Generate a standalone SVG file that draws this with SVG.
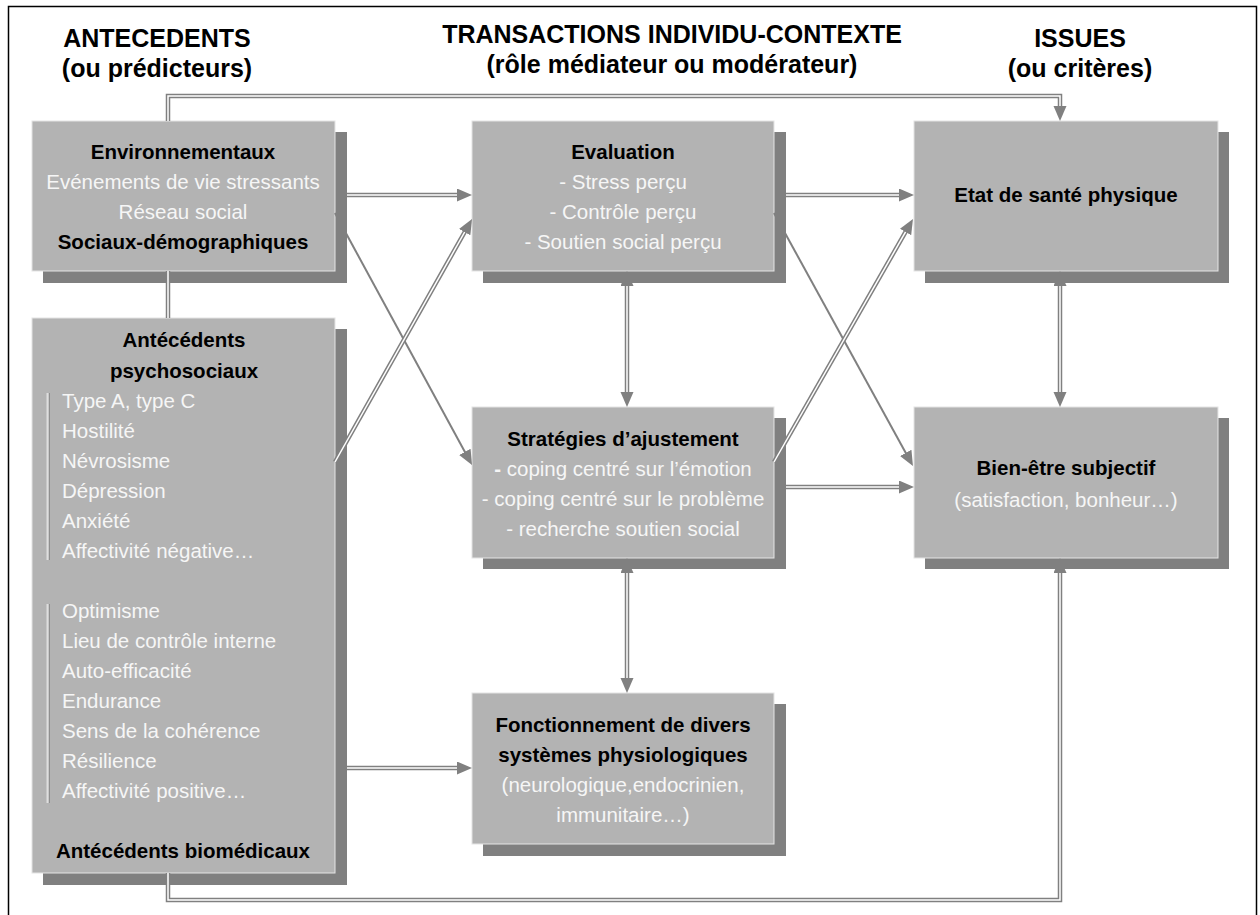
<svg xmlns="http://www.w3.org/2000/svg" width="1260" height="915" viewBox="0 0 1260 915">
<style>
text{font-family:"Liberation Sans",Arial,sans-serif}
.hd{font-size:25px;font-weight:bold;fill:#000;text-anchor:middle}
.t{font-size:20.5px;text-anchor:middle}
.b{font-weight:bold;fill:#000}
.w{fill:#f6f6f6}
.l{font-size:20.5px;fill:#f6f6f6}
.box{fill:#b3b3b3;stroke:#e4e4e4;stroke-width:1}
.sh{fill:#808080}
.dO{fill:none;stroke:#808080;stroke-width:4.5}
.dI{fill:none;stroke:#ffffff;stroke-width:1.5}
.s{fill:none;stroke:#808080;stroke-width:2}
.ae{marker-end:url(#ah)}
.ab{marker-end:url(#ah);marker-start:url(#ah)}
</style>
<defs>
<marker id="ah" markerUnits="userSpaceOnUse" markerWidth="16" markerHeight="14" refX="7" refY="6.5" orient="auto-start-reverse" viewBox="0 0 16 14">
<path d="M0,0 L15,6.5 L0,13 Z" fill="#808080"/>
</marker>
</defs>
<rect x="8.5" y="6.5" width="1248" height="930" fill="#ffffff" stroke="#000" stroke-width="1.5"/>
<g id="headers">
<text class="hd" x="157" y="47">ANTECEDENTS</text>
<text class="hd" x="157" y="77">(ou prédicteurs)</text>
<text class="hd" x="672" y="43">TRANSACTIONS INDIVIDU-CONTEXTE</text>
<text class="hd" x="672" y="73">(rôle médiateur ou modérateur)</text>
<text class="hd" x="1080" y="47">ISSUES</text>
<text class="hd" x="1080" y="77">(ou critères)</text>
</g>
<g id="env">
<rect class="sh" x="43" y="132" width="304" height="151"/>
<rect class="box" x="32" y="121" width="303" height="150"/>
<text class="t b" x="183" y="159">Environnementaux</text>
<text class="t w" x="183" y="189">Evénements de vie stressants</text>
<text class="t w" x="183" y="219">Réseau social</text>
<text class="t b" x="183" y="249">Sociaux-démographiques</text>
</g>
<g id="psycho">
<rect class="sh" x="43" y="329" width="304" height="556"/>
<rect class="box" x="32" y="318" width="303" height="555"/>
<text class="t b" x="184" y="347">Antécédents</text>
<text class="t b" x="184" y="378">psychosociaux</text>
<rect x="46.5" y="393" width="2" height="167" fill="#dedede"/>
<rect x="49" y="393" width="1" height="167" fill="#8f8f8f"/>
<text class="l" x="62" y="408">Type A, type C</text>
<text class="l" x="62" y="438">Hostilité</text>
<text class="l" x="62" y="468">Névrosisme</text>
<text class="l" x="62" y="498">Dépression</text>
<text class="l" x="62" y="528">Anxiété</text>
<text class="l" x="62" y="558">Affectivité négative…</text>
<rect x="46.5" y="604" width="2" height="199" fill="#dedede"/>
<rect x="49" y="604" width="1" height="199" fill="#8f8f8f"/>
<text class="l" x="62" y="618">Optimisme</text>
<text class="l" x="62" y="648">Lieu de contrôle interne</text>
<text class="l" x="62" y="678">Auto-efficacité</text>
<text class="l" x="62" y="708">Endurance</text>
<text class="l" x="62" y="738">Sens de la cohérence</text>
<text class="l" x="62" y="768">Résilience</text>
<text class="l" x="62" y="798">Affectivité positive…</text>
<text class="t b" x="183" y="858">Antécédents biomédicaux</text>
</g>
<g id="evaluation">
<rect class="sh" x="483" y="132" width="303" height="151"/>
<rect class="box" x="472" y="121" width="302" height="150"/>
<text class="t b" x="623" y="159">Evaluation</text>
<text class="t w" x="623" y="189">- Stress perçu</text>
<text class="t w" x="623" y="219">- Contrôle perçu</text>
<text class="t w" x="623" y="249">- Soutien social perçu</text>
</g>
<g id="strategies">
<rect class="sh" x="483" y="418" width="303" height="151"/>
<rect class="box" x="472" y="407" width="302" height="151"/>
<text class="t b" x="623" y="446">Stratégies d’ajustement</text>
<text class="t w" x="623" y="476"><tspan font-weight="bold">-</tspan> coping centré sur l’émotion</text>
<text class="t w" x="623" y="506">- coping centré sur le problème</text>
<text class="t w" x="623" y="536">- recherche soutien social</text>
</g>
<g id="fonctionnement">
<rect class="sh" x="483" y="704" width="303" height="152"/>
<rect class="box" x="472" y="693" width="302" height="151"/>
<text class="t b" x="623" y="732">Fonctionnement de divers</text>
<text class="t b" x="623" y="762">systèmes physiologiques</text>
<text class="t w" x="623" y="792">(neurologique,endocrinien,</text>
<text class="t w" x="623" y="822">immunitaire…)</text>
</g>
<g id="sante">
<rect class="sh" x="925" y="132" width="304" height="151"/>
<rect class="box" x="914" y="121" width="304" height="150"/>
<text class="t b" x="1066" y="202">Etat de santé physique</text>
</g>
<g id="bienetre">
<rect class="sh" x="925" y="418" width="304" height="151"/>
<rect class="box" x="914" y="407" width="304" height="151"/>
<text class="t b" x="1066" y="475">Bien-être subjectif</text>
<text class="t w" x="1066" y="507">(satisfaction, bonheur…)</text>
</g>
<g id="connectors">
<path class="s ae" d="M335,213 L468.2,458"/>
<path class="s ae" d="M774,213 L909.1,459"/>
<g class="dO">
<path d="M168,121 V96 H1060 V113"/>
<path d="M168,271 V318"/>
<path d="M168,873 V900 H1060 V566"/>
<path d="M347,195 H464"/>
<path d="M786,195 H906"/>
<path d="M786,487 H906"/>
<path d="M347,768 H464"/>
<path d="M627,279 V399"/>
<path d="M627,566 V685"/>
<path d="M1060,279 V399"/>
<path d="M335,462 L468.1,226"/>
<path d="M774,462 L909,225.9"/>
</g>
<g class="dI">
<path class="ae" d="M168,121 V96 H1060 V113"/>
<path d="M168,271 V318"/>
<path class="ae" d="M168,873 V900 H1060 V566"/>
<path class="ae" d="M347,195 H464"/>
<path class="ae" d="M786,195 H906"/>
<path class="ae" d="M786,487 H906"/>
<path class="ae" d="M347,768 H464"/>
<path class="ab" d="M627,279 V399"/>
<path class="ab" d="M627,566 V685"/>
<path class="ab" d="M1060,279 V399"/>
<path class="ae" d="M335,462 L468.1,226"/>
<path class="ae" d="M774,462 L909,225.9"/>
</g>
</g>
</svg>
